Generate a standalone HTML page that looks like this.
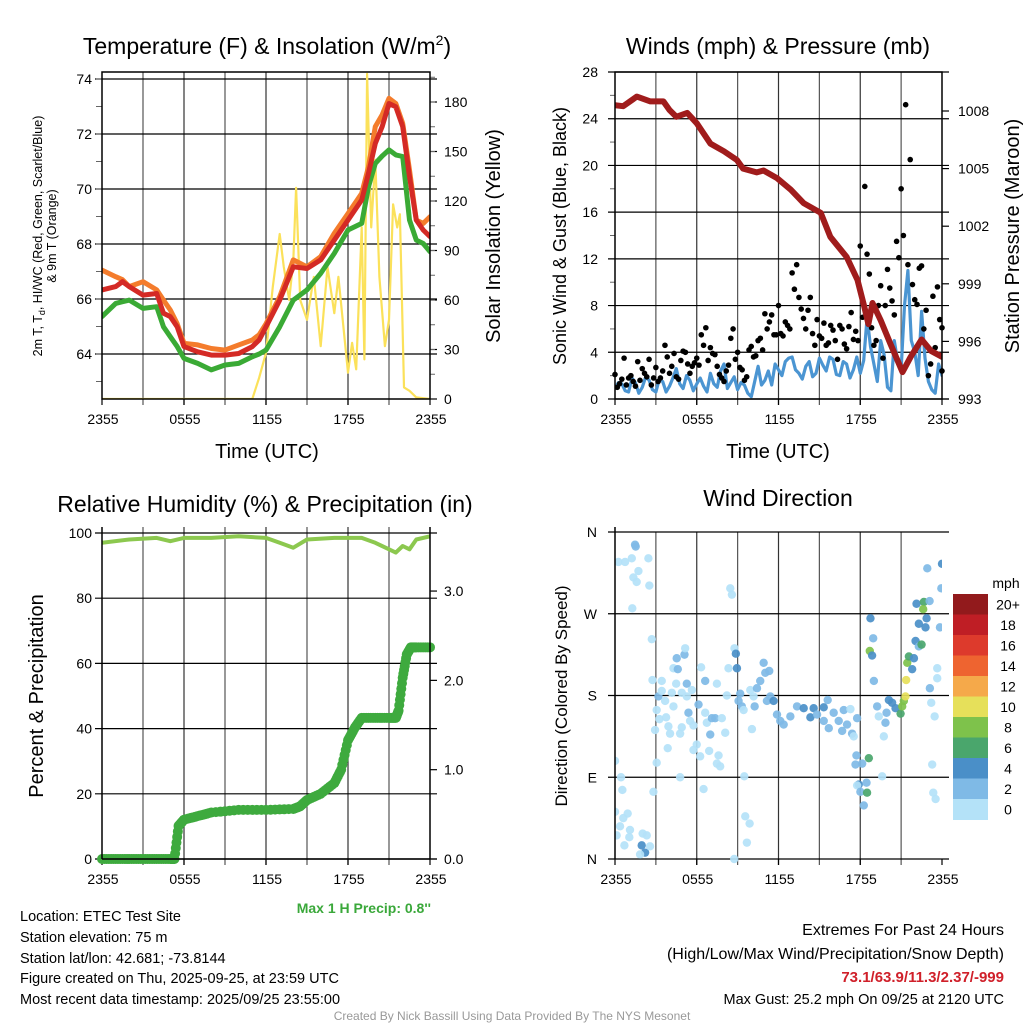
<!DOCTYPE html>
<html><head><meta charset="utf-8">
<style>
body{margin:0;background:#fff;font-family:"Liberation Sans",sans-serif;}
svg{display:block}
</style></head>
<body>
<svg id="chart" width="1024" height="1024" viewBox="0 0 1024 1024" xmlns="http://www.w3.org/2000/svg" font-family="Liberation Sans, sans-serif">
<text x="267" y="54" font-size="23" text-anchor="middle">Temperature (F) &amp; Insolation (W/m<tspan dy="-9" font-size="14">2</tspan><tspan dy="9">)</tspan></text>
<text x="778" y="54" font-size="23" text-anchor="middle">Winds (mph) &amp; Pressure (mb)</text>
<text x="265" y="512" font-size="23" text-anchor="middle">Relative Humidity (%) &amp; Precipitation (in)</text>
<text x="778" y="506" font-size="23" text-anchor="middle">Wind Direction</text>

<text transform="translate(42,236) rotate(-90)" font-size="12.5" text-anchor="middle">2m T, T<tspan font-size="9" dy="3">d</tspan><tspan dy="-3">, HI/WC (Red, Green, Scarlet/Blue)</tspan></text>
<text transform="translate(56,236) rotate(-90)" font-size="12.5" text-anchor="middle">&amp; 9m T (Orange)</text>
<text transform="translate(500,236) rotate(-90)" font-size="20" text-anchor="middle">Solar Insolation (Yellow)</text>
<text transform="translate(566,236) rotate(-90)" font-size="18" text-anchor="middle">Sonic Wind &amp; Gust (Blue, Black)</text>
<text transform="translate(1019,236) rotate(-90)" font-size="20" text-anchor="middle">Station Pressure (Maroon)</text>
<text transform="translate(43,696) rotate(-90)" font-size="20" text-anchor="middle">Percent &amp; Precipitation</text>
<text transform="translate(567,696) rotate(-90)" font-size="17" text-anchor="middle">Direction (Colored By Speed)</text>
<text x="267" y="458" font-size="20" text-anchor="middle">Time (UTC)</text>
<text x="778" y="458" font-size="20" text-anchor="middle">Time (UTC)</text>

<text x="431" y="913" font-size="14" font-weight="bold" fill="#3aa83a" text-anchor="end">Max 1 H Precip: 0.8''</text>
<g font-size="14.5">
<text x="20" y="921">Location: ETEC Test Site</text>
<text x="20" y="942">Station elevation: 75 m</text>
<text x="20" y="963">Station lat/lon: 42.681; -73.8144</text>
<text x="20" y="983">Figure created on Thu, 2025-09-25, at 23:59 UTC</text>
<text x="20" y="1004">Most recent data timestamp: 2025/09/25 23:55:00</text>
</g>
<g text-anchor="end">
<text x="1004" y="935" font-size="16">Extremes For Past 24 Hours</text>
<text x="1004" y="959" font-size="16">(High/Low/Max Wind/Precipitation/Snow Depth)</text>
<text x="1004" y="982" font-size="15" font-weight="bold" fill="#d0202a">73.1/63.9/11.3/2.37/-999</text>
<text x="1004" y="1004" font-size="14.5">Max Gust: 25.2 mph On 09/25 at 2120 UTC</text>
</g>
<text x="512" y="1020" font-size="12" fill="#999" text-anchor="middle">Created By Nick Bassill Using Data Provided By The NYS Mesonet</text>
</svg>
<script>
// ---- Temperature panel data ----
const tempTimes = [0,1,1.5,2,3,4,4.5,5,5.5,6,7,8,9,10,11,11.5,12,13,14,15,16,17,18,19,19.5,20,20.5,21,21.5,22,22.5,23,23.5,24];
const tempRed = [66.33,66.45,66.63,66.45,66.14,66.2,65.48,65.36,64.99,64.27,64.08,63.96,63.96,64.02,64.27,64.51,64.99,65.96,67.17,67.11,67.42,68.14,68.87,69.6,70.57,71.66,72.27,73.11,72.99,72.27,70.45,68.87,68.51,68.27];
const tempOrange = [67.05,66.81,66.7,66.45,66.63,66.33,65.96,65.6,65.1,64.39,64.33,64.2,64.14,64.33,64.51,64.7,65.1,66.08,67.42,67.17,67.54,68.39,69.11,69.84,70.81,72.27,72.7,73.3,73.11,72.39,70.69,68.87,68.75,68.99];
const tempGreen = [65.36,65.84,65.9,65.96,65.66,65.72,64.99,64.63,64.27,63.84,63.66,63.42,63.6,63.66,63.9,64.0,64.14,64.99,65.96,66.33,66.93,67.66,68.51,68.75,70.08,70.93,71.2,71.42,71.24,71.18,68.87,68.14,68.02,67.72];
const solarTimes = [0,11,11.5,12,12.5,13,13.3,13.7,14,14.2,14.5,15,15.5,16,16.5,17,17.3,18,18.3,18.6,19,19.2,19.4,19.7,20,20.3,20.7,21,21.3,21.6,21.8,22.1,22.5,23,24];
const solarVals = [0,0,13,28,68,100,80,60,84,128,60,48,74,32,80,52,74,16,34,18,104,24,197,104,145,74,32,48,118,104,112,7,5,1,0];
const tempTicks = [64,66,68,70,72,74];
const solarTicks = [0,30,60,90,120,150,180];
const timeLabels = ["2355","0555","1155","1755","2355"];
// ---- Wind panel data ----
const presTimes = [0,0.6,1.6,2.6,3.55,4.0,4.5,5.3,6.0,7.0,8.0,8.95,9.4,10.4,10.9,11.9,12.9,13.85,15.1,15.8,17.0,17.8,18.3,18.6,18.9,19.5,20.2,21.1,21.7,22.5,23.2,24];
const presVals = [1008.3,1008.25,1008.75,1008.5,1008.5,1008.05,1007.7,1007.9,1007.36,1006.3,1005.9,1005.45,1005.0,1004.8,1004.9,1004.5,1003.9,1003.2,1002.7,1001.45,1000.4,999.2,997.8,996.9,998.0,997.1,995.9,994.4,995.2,996.1,995.5,995.2];
const windVals = [0.9,1.3,0.6,1.4,1.0,1.6,0.6,1.5,1.1,2.6,0.9,1.6,1.3,1.1,2.2,1.0,3.0,1.4,0.8,1.2,0.2,2.8,1.6,1.2,2.5,3.2,3.6,2.2,2.8,1.9,3.5,2.4,3.4,2.0,3.0,2.5,2.2,7.0,3.0,5.0,1.0,5.0,2.5,11.0,4.0,7.5,1.5,0.5,2.0];
const windMidVals = [1.4,0.7,1.8,0.5,1.9,0.8,1.7,0.6,1.8,1.3,2.0,0.7,1.8,0.6,1.3,2.4,0.9,1.9,1.4,0.5,1.5,1.2,2.4,3.0,2.0,3.5,2.5,1.7,3.2,2.2,2.9,3.6,2.1,3.2,1.8,3.6,3.3,4.5,1.5,3.8,0.7,3.2,8.0,5.0,2.0,3.5,0.8,3.0];
const gustVals = [2.1,1.3,3.5,1.8,1.5,3.2,2.6,1.9,1.2,2.7,1.8,4.6,2.2,3.9,1.7,4.1,3.0,2.8,3.5,5.5,6.1,4.4,3.8,2.1,1.5,2.9,6.0,4.0,2.5,1.9,4.5,3.7,5.2,7.3,6.6,5.5,8.0,5.4,6.3,10.8,11.5,7.7,6.0,8.7,4.6,5.4,6.5,4.8,5.9,3.4,6.0,4.3,7.4,5.8,13.1,18.2,10.7,4.6,8.0,3.5,11.1,8.4,13.5,18.0,25.2,20.5,8.5,11.2,6.0,2.0,8.8,9.6,6.1];
const gustVals2 = [1.0,1.7,1.2,2.0,1.1,1.6,2.2,3.4,1.8,1.5,2.4,3.6,2.8,1.9,3.3,4.0,2.2,3.1,2.9,4.6,3.3,3.9,2.8,1.8,2.4,5.2,3.4,2.7,1.6,4.2,3.6,5.0,4.2,6.0,7.2,5.5,5.6,6.6,6.0,9.4,8.7,6.9,7.6,5.6,6.8,5.2,4.6,6.3,5.0,6.3,4.7,6.2,5.1,5.0,7.0,12.4,6.1,5.0,9.7,8.0,9.5,7.2,12.1,14.0,11.5,9.8,8.1,11.4,7.6,3.0,4.4,6.8,2.4];
const windTicks = [0,4,8,12,16,20,24,28];
const presTicks = [993,996,999,1002,1005,1008];
// ---- RH panel data ----
const rhTimes = [0,2,4,5,6,8,10,12,13,14,15,17,19,20,21,21.5,22,22.5,23,24];
const rhVals = [97,98,98.5,97.5,98.5,98.5,99,98.5,97,95.5,98,98.5,98.5,97,95,94,96,95,98,99];
const precipTimes = [0,1,2,3,4,5,5.3,5.6,6,7,8,10,12,14,14.5,15,16,17,17.5,18,18.5,19,20,21,21.5,21.7,22,22.3,22.6,23,24];
const precipVals = [0,0,0,0,0,0,0,0.37,0.44,0.48,0.52,0.55,0.55,0.56,0.59,0.66,0.73,0.85,1.0,1.33,1.47,1.58,1.58,1.58,1.58,1.66,2.03,2.29,2.37,2.37,2.37];
const pctTicks = [0,20,40,60,80,100];
const inTicks = ["0.0","1.0","2.0","3.0"];
// ---- Wind direction panel data ----
const dirHours = [1.47,1.52,0.25,0.74,1.23,2.45,1.72,1.35,1.59,2.52,1.27,2.7,2.75,3.43,3.19,3.43,3.68,3.06,3.26,3.75,2.94,3.92,4.04,3.87,4.78,4.9,4.29,4.17,4.49,4.29,4.61,4.53,5.1,5.15,5.27,4.9,5.64,5.27,5.39,5.51,5.76,6.0,5.76,6.25,6.13,6.62,6.32,6.62,6.74,7.11,7.35,6.99,6.91,7.6,7.48,7.72,7.84,8.09,7.48,8.21,8.33,8.46,8.58,8.77,8.87,8.95,9.19,9.07,9.31,9.44,9.93,10.17,10.25,10.05,10.42,10.66,10.91,11.03,11.32,11.15,11.4,11.64,11.89,12.13,12.38,12.87,13.36,13.85,14.34,14.58,14.83,15.32,15.61,15.32,15.69,16.05,16.42,16.79,16.67,17.03,17.28,17.4,17.77,17.52,17.72,17.65,18.14,17.89,17.77,18.01,18.46,18.26,18.5,18.63,18.75,18.95,18.7,18.87,19.0,19.24,19.36,19.73,19.85,19.61,19.93,20.1,20.34,20.59,20.96,21.08,21.2,21.32,21.37,21.45,21.57,21.81,21.94,22.06,22.3,22.5,22.3,22.79,22.87,22.13,22.67,22.62,23.09,22.92,23.65,23.65,23.11,23.21,23.46,23.28,23.36,23.53,23.85,23.95,24.0,0,0.44,0.54,0,0.61,0.93,0.37,0.12,1.1,1.05,0.69,2.03,2.33,1.96,2.21,1.84,2.57,3.06,2.82,4.78,6.5,9.49,9.56,9.88,9.68,8.75];
const dirDegs = [346,344,327,327,331,331,317,310,305,301,276,242,197,196,179,185,174,164,154,156,142,146,138,122,138,145,168,183,193,210,209,221,225,232,193,183,186,179,161,152,147,126,120,113,170,196,211,161,150,155,155,137,119,114,105,102,155,139,193,180,210,298,291,232,226,210,182,174,168,164,186,179,168,143,188,196,216,205,207,174,179,174,159,152,148,157,168,166,156,166,159,167,175,152,144,161,152,164,141,148,165,138,155,135,114,104,105,82,81,74,84,59,73,111,265,243,229,224,196,168,157,135,150,91,161,175,172,166,160,168,174,179,197,216,223,209,221,240,234,236,259,255,265,281,283,275,284,320,210,199,188,172,157,104,73,66,255,298,325,108,90,76,52,45,50,36,26,32,24,15,28,26,15,7,5,14,106,74,90,77,91,47,39,18,0];
const dirSpeeds = [3,3,1,1,1,1,1,1,1,1,1,1,1,1,3,1,1,1,1,1,1,1,1,1,1,1,1,1,1,1,3,3,3,1,3,1,1,1,3,1,1,1,1,1,3,3,1,1,1,3,3,3,1,1,1,1,1,1,1,1,1,1,1,1,5,5,3,3,3,1,1,1,3,1,3,3,3,3,3,3,3,5,3,3,3,3,3,5,5,5,3,5,3,3,3,3,3,3,3,3,1,3,3,1,3,3,3,5,1,3,3,3,7,7,5,3,9,5,3,3,1,1,3,1,3,5,5,5,7,9,9,11,11,9,7,5,5,5,3,7,5,5,5,5,7,9,3,3,1,1,3,1,1,1,1,1,3,3,5,1,1,1,1,1,1,1,1,1,1,1,1,1,5,5,1,1,1,1,1,1,1,1,1,1,1,1];
const dirTickLabels = ["N","E","S","W","N"];
const speedBins = ["0","2","4","6","8","10","12","14","16","18","20+"];
const speedColors = ["#b4e2f8","#7fbae6","#4a8fc8","#4aa66c","#7ec24b","#e6e05a","#f5a94a","#ee6430","#dd3a2c","#bf1e25","#921a1c"];

const svg = document.getElementById('chart');
const NS = 'http://www.w3.org/2000/svg';
function mk(tag, attrs, parent) {
  const e = document.createElementNS(NS, tag);
  for (const k in attrs) e.setAttribute(k, attrs[k]);
  (parent || svg).appendChild(e);
  return e;
}
function scale(d0, d1, r0, r1) { return v => r0 + (v - d0) / (d1 - d0) * (r1 - r0); }

function frame(x0, x1, y0, y1, name) {
  const g = mk('g', {});
  
  
  const xs = scale(0, 24, x0, x1);
  for (let h = 3; h < 24; h += 3) {
    const l = mk('line', {x1: xs(h), x2: xs(h), y1: y0, y2: y1 + 6, stroke: (h % 6 == 0 ? '#333' : '#555'), 'stroke-width': 1.2}, g);
    
    
  }
  timeLabels.forEach((t, i) => {
    const tx = mk('text', {x: xs(i * 6) + 1, y: y1 + 25, 'font-size': 14, 'text-anchor': 'middle'}, g);
    tx.textContent = t;
    
    
    mk('line', {x1: xs(i * 6), x2: xs(i * 6), y1: y1, y2: y1 + 6, stroke: '#000', 'stroke-width': 1.2}, g);
  });
  return {xs, g};
}
function hline(g, x0, x1, y, name) {
  const l = mk('line', {x1: x0 - 7, x2: x1 + 7, y1: y, y2: y, stroke: '#000', 'stroke-width': 1.2}, g);
  
  
}
function box(x0, x1, y0, y1, name) {
  const r = mk('rect', {x: x0, y: y0, width: x1 - x0, height: y1 - y0, fill: 'none', stroke: '#000', 'stroke-width': 1.5});
  
  
}
function linePath(times, vals, xs, ys, color, w, name, clip) {
  let d = '';
  times.forEach((t, i) => { d += (i ? 'L' : 'M') + xs(t).toFixed(1) + ',' + ys(vals[i]).toFixed(1); });
  const p = mk('path', {d, fill: 'none', stroke: color, 'stroke-width': w, 'stroke-linejoin': 'round', 'stroke-linecap': 'round'});
  if (clip) p.setAttribute('clip-path', clip);
  
  
  return p;
}
function label(x, y, txt, anchor, size, name) {
  const t = mk('text', {x, y, 'font-size': size || 14, 'text-anchor': anchor});
  t.textContent = txt;
  
  
}

const defs = mk('defs', {});
[['c1', 102, 72, 328, 327], ['c2', 615, 72, 327, 327], ['c3', 102, 527, 328, 332], ['c4', 615, 527, 327, 337]].forEach(c => {
  const cp = mk('clipPath', {id: c[0]}, defs);
  mk('rect', {x: c[1], y: c[2], width: c[3], height: c[4]}, cp);
});

// ===== Panel 1 =====
{
  const x0 = 102, x1 = 430, y0 = 72, y1 = 399;
  const {xs, g} = frame(x0, x1, y0, y1, 'temp-panel');
  const yt = scale(64, 74, 354, 79);
  const ysol = scale(0, 180, 399, 102);
  tempTicks.forEach(v => {
    hline(g, x0, x1, yt(v), 'temp-gridline');
    label(x0 - 10, yt(v) + 5, String(v), 'end', 14, 'temp-tick-label');
  });
  for (let v = 63; v <= 74; v++) mk('line', {x1: x0 - 6, x2: x0, y1: yt(v), y2: yt(v), stroke: '#666'}, g);
  solarTicks.forEach(v => {
    mk('line', {x1: x1, x2: x1 + 7, y1: ysol(v), y2: ysol(v), stroke: '#000', 'stroke-width': 1.2}, g);
    label(x1 + 14, ysol(v) + 5, String(v), 'start', 14, 'solar-tick-label');
  });
  for (let v = 15; v <= 195; v += 15) mk('line', {x1: x1, x2: x1 + 5, y1: ysol(v), y2: ysol(v), stroke: '#666'}, g);
  linePath(solarTimes, solarVals, xs, ysol, '#fbe15a', 2.2, 'solar-insolation-line', 'url(#c1)');
  linePath(tempTimes, tempOrange, xs, yt, '#f47c2c', 5, 'temp-9m-orange-line', 'url(#c1)');
  linePath(tempTimes, tempGreen, xs, yt, '#3aaa35', 5, 'dewpoint-green-line', 'url(#c1)');
  linePath(tempTimes, tempRed, xs, yt, '#d42a25', 5, 'temp-2m-red-line', 'url(#c1)');
  box(x0, x1, y0, y1, 'temp-panel');
}
// ===== Panel 2 =====
{
  const x0 = 615, x1 = 942, y0 = 72, y1 = 399;
  const {xs, g} = frame(x0, x1, y0, y1, 'wind-panel');
  const yw = scale(0, 28, 399, 72);
  const yp = scale(993, 1008, 399, 111);
  windTicks.forEach(v => {
    hline(g, x0, x1, yw(v), 'wind-gridline');
    label(x0 - 17, yw(v) + 5, String(v), 'end', 14, 'wind-tick-label');
  });
  for (let v = 2; v < 28; v += 4) mk('line', {x1: x0 - 5, x2: x0, y1: yw(v), y2: yw(v), stroke: '#666'}, g);
  presTicks.forEach(v => {
    mk('line', {x1: x1, x2: x1 + 7, y1: yp(v), y2: yp(v), stroke: '#000', 'stroke-width': 1.2}, g);
    label(x1 + 16, yp(v) + 5, String(v), 'start', 14, 'pressure-tick-label');
  });
  const wt = [], wv = [];
  windVals.forEach((v, i) => {
    wt.push(i * 0.5); wv.push(v);
    if (i < windMidVals.length) { wt.push(i * 0.5 + 0.25); wv.push(windMidVals[i]); }
  });
  linePath(wt, wv, xs, yw, '#4b95d2', 3.2, 'sonic-wind-line', 'url(#c2)');
  [gustVals, gustVals2].forEach((arr, k) => {
    arr.forEach((v, i) => {
      const c = mk('circle', {cx: xs(Math.min(24, i / 3 + k / 6)), cy: yw(v), r: 2.8, fill: '#000'});
      
      
    });
  });
  linePath(presTimes, presVals, xs, yp, '#a01c1c', 6, 'pressure-line', 'url(#c2)');
  box(x0, x1, y0, y1, 'wind-panel');
}
// ===== Panel 3 =====
{
  const x0 = 102, x1 = 430, y0 = 527, y1 = 859;
  const {xs, g} = frame(x0, x1, y0, y1, 'rh-panel');
  const ypc = scale(0, 100, 859, 533);
  const yin = v => ypc(v / 3.65 * 100);
  pctTicks.forEach(v => {
    hline(g, x0, x1, ypc(v), 'percent-gridline');
    label(x0 - 10, ypc(v) + 5, String(v), 'end', 14, 'percent-tick-label');
  });
  inTicks.forEach((t, i) => {
    mk('line', {x1: x1, x2: x1 + 7, y1: yin(i), y2: yin(i), stroke: '#000', 'stroke-width': 1.2}, g);
    label(x1 + 14, yin(i) + 5, t, 'start', 14, 'precip-tick-label');
  });
  linePath(rhTimes, rhVals, xs, ypc, '#8cc84f', 4, 'rh-line', 'url(#c3)');
  for (let i = 0; i < precipTimes.length - 1; i++) {
    const n = 6;
    for (let k = 0; k < n; k++) {
      const t = precipTimes[i] + (precipTimes[i + 1] - precipTimes[i]) * k / n;
      const v = precipVals[i] + (precipVals[i + 1] - precipVals[i]) * k / n;
      const c = mk('circle', {cx: xs(t), cy: yin(v), r: 5, fill: '#3eaa3e'});
      
      
    }
  }
  const last = mk('circle', {cx: xs(24), cy: yin(precipVals[precipVals.length - 1]), r: 5, fill: '#3eaa3e'});
  
  
  mk('line', {x1: x0, x2: x0, y1: 527, y2: y1, stroke: '#000', 'stroke-width': 1.5});
  mk('line', {x1: x1, x2: x1, y1: 527, y2: y1, stroke: '#000', 'stroke-width': 1.5});
  mk('line', {x1: x0, x2: x1, y1: y1, y2: y1, stroke: '#000', 'stroke-width': 1.5});
}
// ===== Panel 4 =====
{
  const x0 = 615, x1 = 942, y0 = 532, y1 = 859;
  const {xs, g} = frame(x0, x1, y0, y1, 'direction-panel');
  const yd = scale(0, 360, 859, 532);
  dirTickLabels.forEach((t, i) => {
    hline(g, x0, x1, yd(i * 90), 'direction-gridline');
    label(x0 - 18, yd(i * 90) + 5, t, 'end', 14, 'direction-tick-label');
  });
  dirHours.forEach((h, i) => {
    const bin = Math.min(10, Math.floor(dirSpeeds[i] / 2));
    const c = mk('circle', {cx: xs(h), cy: yd(dirDegs[i]), r: 4.2, fill: speedColors[bin], 'fill-opacity': 0.92, 'clip-path': 'url(#c4)'});
    
    
  });
  mk('line', {x1: x0, x2: x0, y1: 527, y2: y1, stroke: '#000', 'stroke-width': 1.5});
  const cb = mk('g', {});
  
  
  const bh = 20.5, top = 594;
  label(1006, 588, 'mph', 'middle', 14, 'colorbar-title');
  speedBins.forEach((s, i) => {
    const idx = speedBins.length - 1 - i;
    const r = mk('rect', {x: 953, y: top + i * bh, width: 35, height: bh + 0.5, fill: speedColors[idx]}, cb);
    
    
    label(1008, top + i * bh + bh / 2 + 5, speedBins[idx], 'middle', 14, 'colorbar-label');
  });
}
</script>
</body></html>
